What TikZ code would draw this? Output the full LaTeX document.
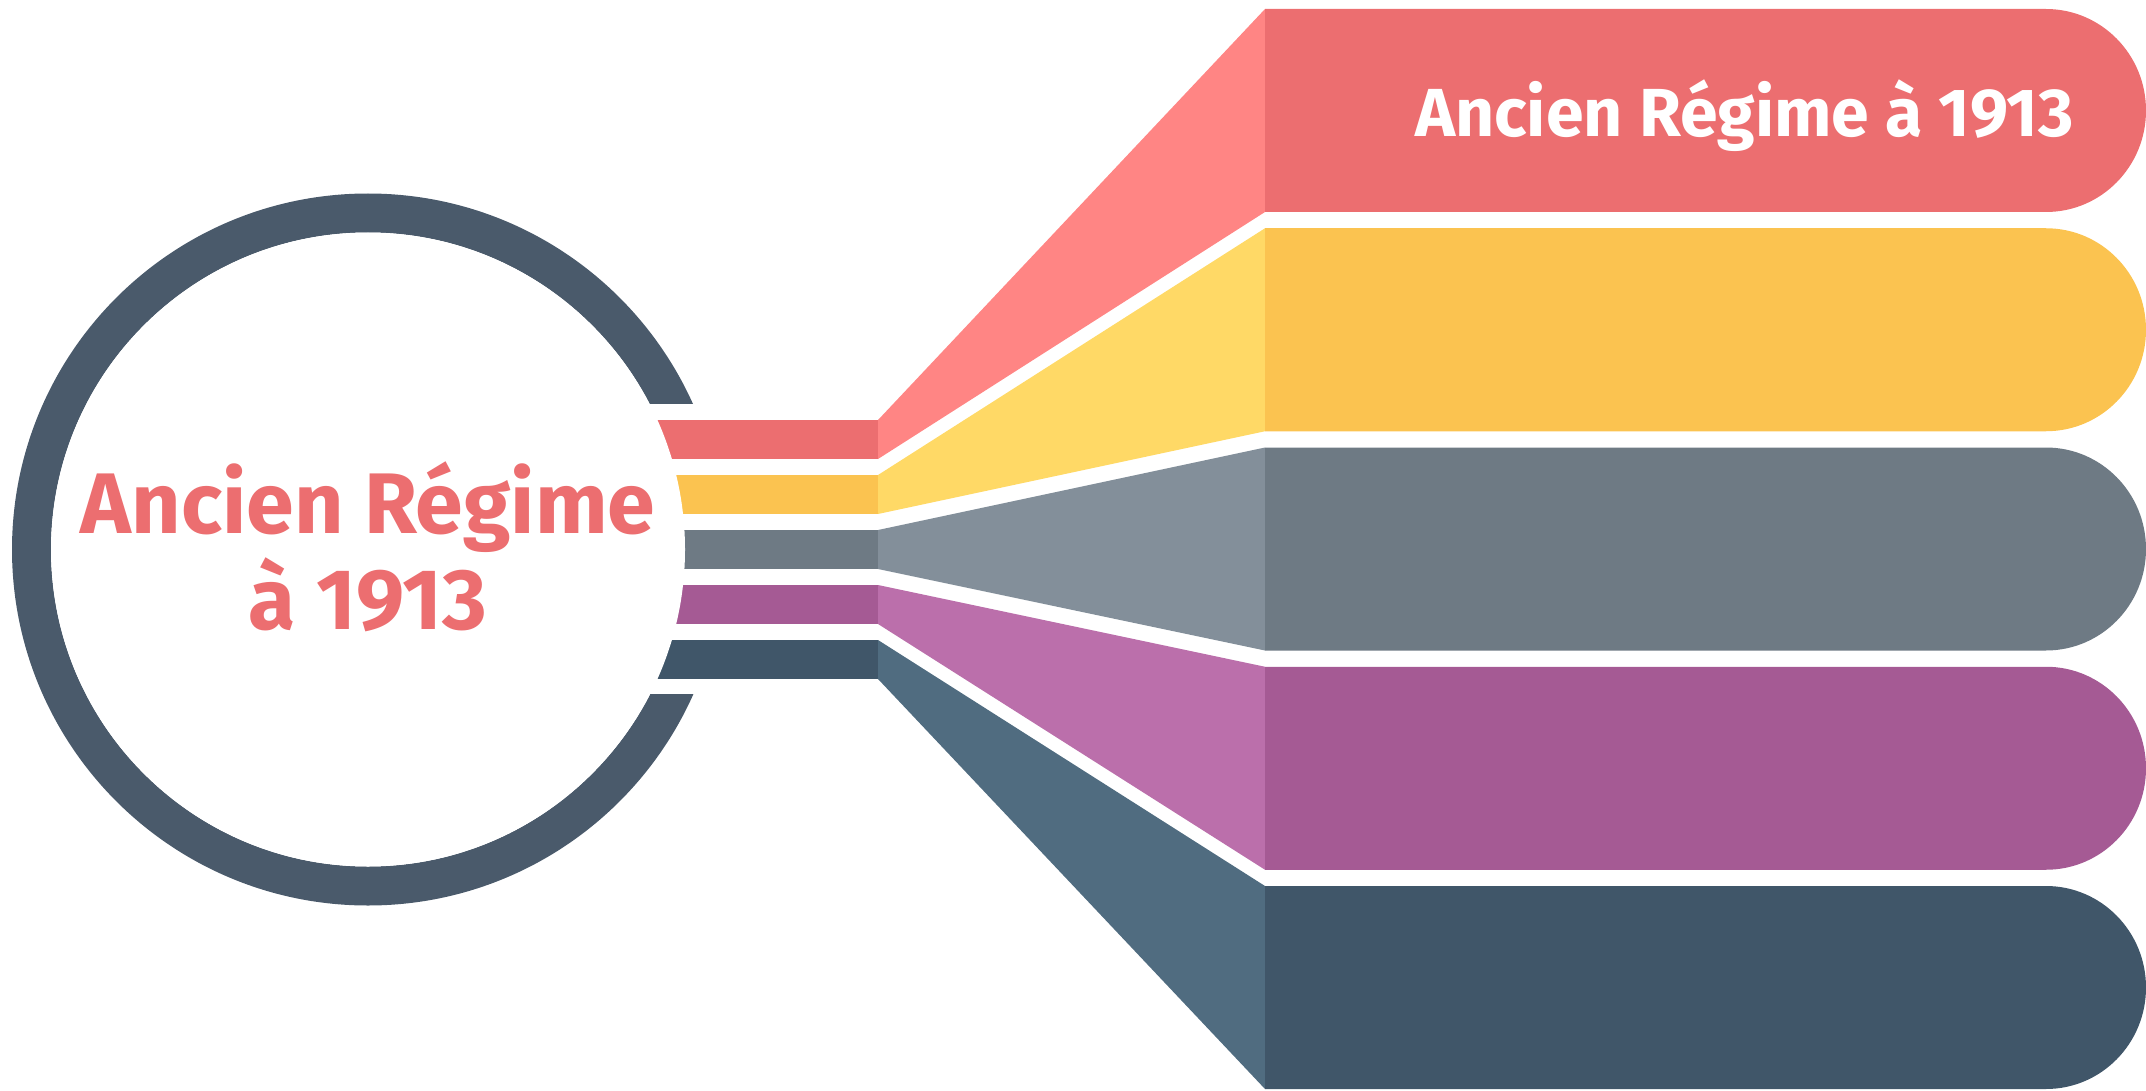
\documentclass[tikz,border=0pt]{standalone}
\usepackage{fontspec}
\setmainfont{Fira Sans}
\definecolor{ringgray}{HTML}{4A5A6B}
\definecolor{redbar}{HTML}{EC6E70}
\definecolor{redside}{HTML}{FF8584}
\definecolor{yellowbar}{HTML}{FBC350}
\definecolor{yellowside}{HTML}{FFD966}
\definecolor{graybar}{HTML}{6E7A84}
\definecolor{grayside}{HTML}{838F9A}
\definecolor{purplebar}{HTML}{A55A94}
\definecolor{purpleside}{HTML}{BB6FAB}
\definecolor{darkbar}{HTML}{405669}
\definecolor{darkside}{HTML}{506C80}
\begin{document}
\begin{tikzpicture}[x=1pt, y=-1pt,
    bigtitle/.style={font=\bfseries\fontsize{86}{96}\selectfont, text=redbar, inner sep=0pt, anchor=base},
    bartitle/.style={font=\bfseries\fontsize{68}{78}\selectfont, text=white, inner sep=0pt, anchor=base east}]
  \useasboundingbox (0,0) rectangle (2146,1091);
  % ring, opened on the right
  \fill[ringgray, even odd rule] (368,549.5) circle[radius=356pt] circle[radius=317pt];
  \fill[white] (600,404) rectangle (760,694);
  % strips, side faces and bars
  \foreach \i/\main/\side in {0/redbar/redside, 1/yellowbar/yellowside, 2/graybar/grayside,
                              3/purplebar/purpleside, 4/darkbar/darkside}{
    \pgfmathsetmacro\st{420+55*\i}
    \pgfmathsetmacro\sb{\st+39}
    \pgfmathsetmacro\bt{9+219.25*\i}
    \pgfmathsetmacro\bb{\bt+203}
    \fill[\main] (600,\st) rectangle (878,\sb);
    \fill[\side] (878,\st) -- (1265,\bt) -- (1265,\bb) -- (878,\sb) -- cycle;
    \fill[\main] (1265,\bt) -- (2046,\bt)
      arc[start angle=90, end angle=-90, x radius=100pt, y radius=101.5pt] -- (1265,\bb) -- cycle;
  }
  \fill[white] (368,549.5) circle[radius=317pt];
  % texts
  \node[bigtitle] (title) at (368,533) {Ancien Régime};
  \node[bigtitle] (year) at (368,629) {à 1913};
  \node[bartitle] (bar1) at (2074,137) {Ancien Régime à 1913};
\end{tikzpicture}
\end{document}
